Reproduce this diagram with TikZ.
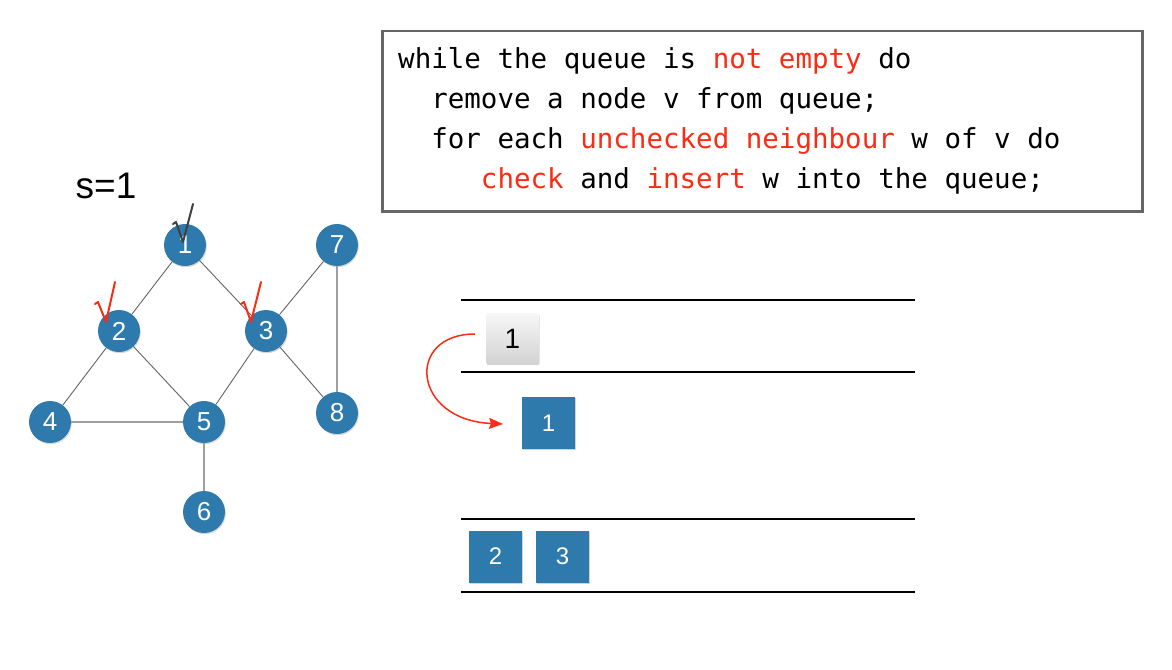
\documentclass[tikz,border=0pt]{standalone}
\usepackage{fontspec}
\setmainfont{Liberation Sans}
\newfontfamily\codefont{DejaVu Sans Mono}
\usetikzlibrary{arrows.meta,shadows}
\definecolor{nodeblue}{RGB}{46,122,172}
\definecolor{codered}{RGB}{250,45,20}
\definecolor{edgegray}{RGB}{100,100,100}
\tikzset{
  gnode/.style={circle,fill=nodeblue,minimum size=42pt,inner sep=0pt,text=white,
    font=\fontsize{26}{30}\selectfont,drop shadow={shadow xshift=0.8pt,shadow yshift=-1.2pt,opacity=0.3}},
  edge/.style={draw=edgegray,line width=0.9pt},
  ledge/.style={draw=gray!75,line width=1.4pt},
  qbox/.style={rectangle,fill=nodeblue,minimum width=53pt,minimum height=52pt,inner sep=0pt,text=white,
    font=\fontsize{24}{28}\selectfont,drop shadow={shadow xshift=0.8pt,shadow yshift=-1.2pt,opacity=0.35}},
  gbox/.style={rectangle,rounded corners=2pt,top color=gray!6,bottom color=gray!35,minimum width=53pt,minimum height=51pt,
    inner sep=0pt,text=black,font=\fontsize{28}{32}\selectfont,drop shadow={shadow xshift=0.6pt,shadow yshift=-1.2pt,opacity=0.3}},
  qline/.style={draw=black,line width=1.5pt},
  tick/.style={line width=2pt,line join=round,line cap=round},
  codeline/.style={anchor=base west,inner sep=0pt,font=\codefont\fontsize{27.5}{32}\selectfont},
}
\newcommand{\rd}[1]{\textcolor{codered}{#1}}
\begin{document}
\begin{tikzpicture}[x=1pt,y=-1pt]
\useasboundingbox[fill=white] (0,0) rectangle (1172,669);

% title
\node[font=\fontsize{37}{42}\selectfont,inner sep=0pt] (s) at (106,186) {s=1};

% graph nodes
\node[gnode] (n1) at (185,245) {1};
\node[gnode] (n7) at (337,245) {7};
\node[gnode] (n2) at (119,331) {2};
\node[gnode] (n3) at (266,331) {3};
\node[gnode] (n4) at (50,422) {4};
\node[gnode] (n5) at (204,422) {5};
\node[gnode] (n8) at (337,413) {8};
\node[gnode] (n6) at (204,512) {6};

\path[edge] (n1) -- (n2);
\path[edge] (n1) -- (n3);
\path[edge] (n2) -- (n4);
\path[edge] (n2) -- (n5);
\path[edge] (n3) -- (n5);
\path[edge] (n3) -- (n7);
\path[edge] (n3) -- (n8);
\path[ledge] (n7) -- (n8);
\path[ledge] (n4) -- (n5);
\path[ledge] (n5) -- (n6);

% check marks
\draw[tick,draw=black!75] (173,224) -- (176,222) -- (183,242) -- (193,204);
\draw[tick,draw=codered] (95,304) -- (98,302) -- (106,322) -- (115,282);
\draw[tick,draw=codered] (241,304) -- (244,302) -- (251,322) -- (261,282);

% code box
\node[draw=gray!80!black,line width=2.5pt,minimum width=760pt,minimum height=180pt,inner sep=0pt,anchor=north west] (code) at (381,30) {};
\node[codeline] (l1) at (398,68) {while the queue is \rd{not empty} do};
\node[codeline] (l2) at (398,108) {\ \ remove a node v from queue;};
\node[codeline] (l3) at (398,148) {\ \ for each \rd{unchecked neighbour} w of v do};
\node[codeline] (l4) at (398,188) {\ \ \ \ \ \rd{check} and \rd{insert} w into the queue;};

% queue lines
\coordinate (qa1) at (461,300); \coordinate (qa2) at (915,300);
\coordinate (qb1) at (461,372); \coordinate (qb2) at (915,372);
\coordinate (qc1) at (461,519); \coordinate (qc2) at (915,519);
\coordinate (qd1) at (461,592); \coordinate (qd2) at (915,592);
\draw[qline] (qa1) -- (qa2);
\draw[qline] (qb1) -- (qb2);
\draw[qline] (qc1) -- (qc2);
\draw[qline] (qd1) -- (qd2);

% queue boxes
\node[gbox] (g1) at (512.5,338.5) {1};
\node[qbox] (b1) at (548.5,423) {1};
\node[qbox] (b2) at (495.5,556.5) {2};
\node[qbox] (b3) at (562.5,556.5) {3};

% red arrow
\coordinate (as) at (475,334);
\coordinate (ae) at (503,424);
\draw[codered,line width=1.5pt,-{Stealth[length=14pt,width=11pt,inset=2pt]}] (as) .. controls (405,334) and (412,420) .. (ae);
\end{tikzpicture}
\end{document}
